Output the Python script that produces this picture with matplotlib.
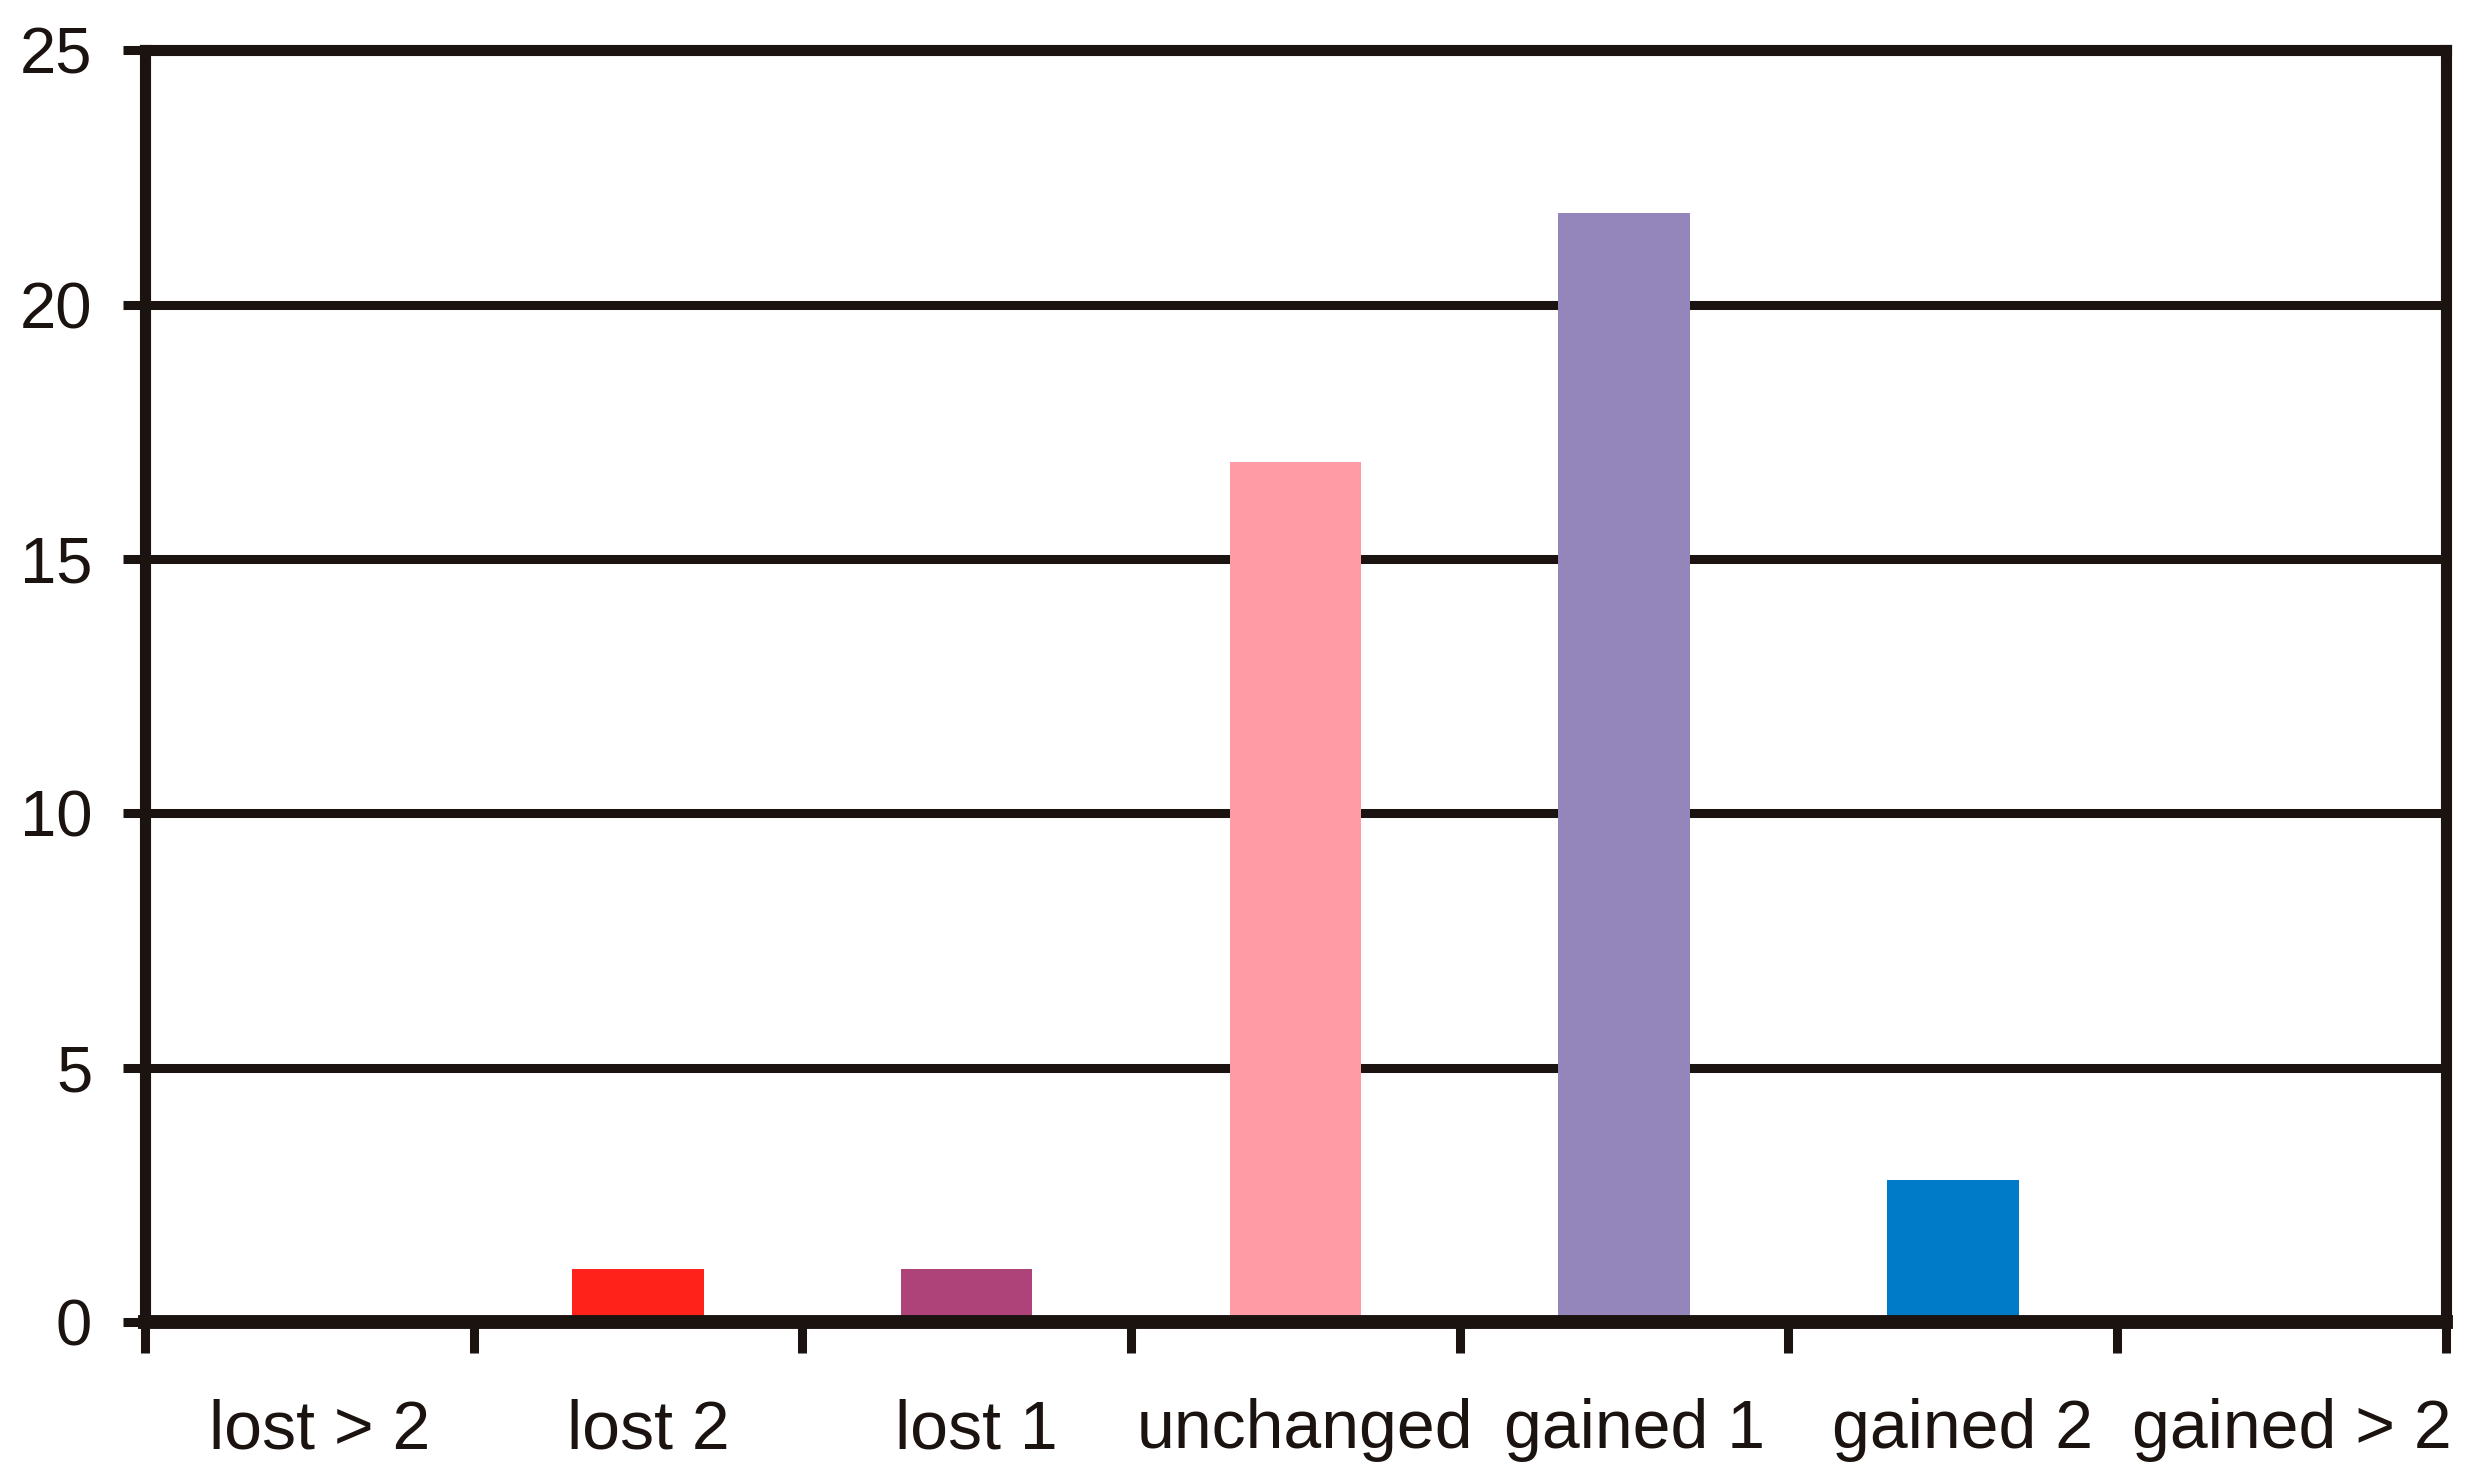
import numpy as np
import matplotlib.pyplot as plt
import matplotlib.transforms as mtransforms

# counts per category of change
categories = ["lost > 2", "lost 2", "lost 1", "unchanged", "gained 1", "gained 2", "gained > 2"]
counts = [0, 1.05, 1.05, 16.9, 21.8, 2.8, 0]
bar_colors = ["#FF221A", "#FF221A", "#AD4378", "#FF9BA4", "#9486BA", "#007BC7", "#007BC7"]
y_ticks = [0, 5, 10, 15, 20, 25]

ink = "#1B1310"
plt.rcParams["font.family"] = ["Liberation Sans", "DejaVu Sans"]

fig = plt.figure(figsize=(24.74, 14.83), dpi=100)
ax = fig.add_axes([0.0586, 0.1086, 0.9300, 0.8574])

x = np.arange(len(categories)) + 0.5
ax.bar(x, counts, width=0.40, color=bar_colors, zorder=3)

ax.set_xlim(0, len(categories))
ax.set_ylim(0, 25)

# horizontal gridlines
for yv in y_ticks[1:-1]:
    ax.axhline(yv, color=ink, lw=6.5, zorder=2)

for side in ["left", "right", "top"]:
    ax.spines[side].set_color(ink)
    ax.spines[side].set_linewidth(8)
ax.spines["bottom"].set_color(ink)
ax.spines["bottom"].set_linewidth(10)
ax.spines["bottom"].set_zorder(4)

ax.set_yticks(y_ticks)
ax.set_yticklabels([str(v) for v in y_ticks])
ax.tick_params(axis="y", direction="out", length=16, width=6.5, color=ink,
               pad=22, labelsize=47, labelcolor=ink)

# ticks at category boundaries, labels at centres
ax.set_xticks(np.arange(len(categories) + 1))
ax.set_xticklabels([])
ax.set_xticks(x, minor=True)
ax.set_xticklabels(categories, minor=True)
ax.tick_params(axis="x", which="major", direction="out", length=22, width=6.5, color=ink)
ax.tick_params(axis="x", which="minor", length=0, pad=55, labelsize=49, labelcolor=ink)

# labels sit a touch right of the bar centres in the original
shift = mtransforms.ScaledTranslation(0.1, 0, fig.dpi_scale_trans)
for lbl in ax.get_xticklabels(minor=True):
    lbl.set_transform(lbl.get_transform() + shift)

fig.savefig("out.png", dpi=100)
